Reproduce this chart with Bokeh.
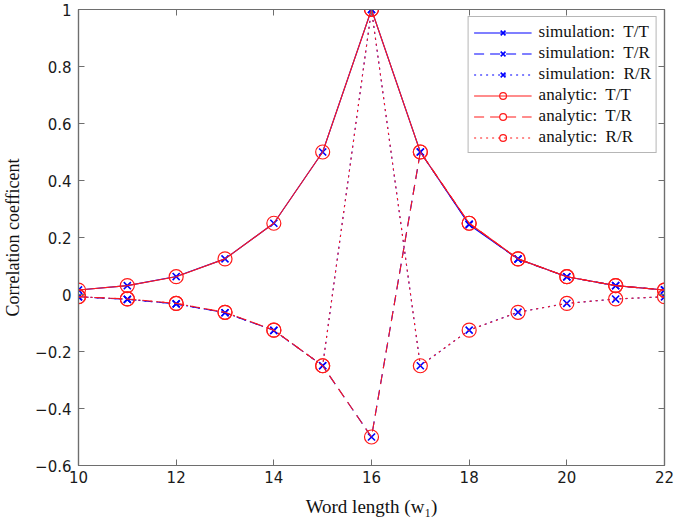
from bokeh.plotting import figure
from bokeh.models import (Range1d, LinearAxis, FixedTicker, CustomJSTickFormatter,
                          Legend, LegendItem)
from bokeh.embed import file_html
from bokeh.resources import INLINE

# ---- data ----
word_length = [10, 11, 12, 13, 14, 15, 16, 17, 18, 19, 20, 21, 22]

sim_tt = [0.016, 0.031, 0.063, 0.125, 0.25, 0.5, 1.0, 0.5, 0.245, 0.125, 0.062, 0.031, 0.016]
sim_tr = [-0.008, -0.017, -0.033, -0.064, -0.126, -0.25, -0.5, 0.5, 0.247, 0.124, 0.062, 0.031, 0.016]
sim_rr = [-0.008, -0.017, -0.033, -0.064, -0.126, -0.25, 1.0, -0.25, -0.125, -0.062, -0.031, -0.016, -0.008]

ana_tt = [0.0156, 0.03125, 0.0625, 0.125, 0.25, 0.5, 1.0, 0.5, 0.25, 0.125, 0.0625, 0.03125, 0.0156]
ana_tr = [-0.0078, -0.0156, -0.03125, -0.0625, -0.125, -0.25, -0.5, 0.5, 0.25, 0.125, 0.0625, 0.03125, 0.0156]
ana_rr = [-0.0078, -0.0156, -0.03125, -0.0625, -0.125, -0.25, 1.0, -0.25, -0.125, -0.0625, -0.03125, -0.0156, -0.0078]

x_ticks = [10, 12, 14, 16, 18, 20, 22]
y_ticks = [-0.6, -0.4, -0.2, 0, 0.2, 0.4, 0.6, 0.8, 1]

legend_labels = ["simulation:  T/T", "simulation:  T/R", "simulation:  R/R",
                 "analytic:  T/T", "analytic:  T/R", "analytic:  R/R"]

SERIF = "Liberation Serif"
SANS = "DejaVu Sans"
FRAME = "#6e6e6e"

p = figure(width=677, height=519, output_backend="svg", toolbar_location=None,
           x_range=Range1d(10, 22), y_range=Range1d(-0.6, 1.0),
           min_border_left=74, min_border_right=13, min_border_top=9, min_border_bottom=50)
p.background_fill_color = "white"
p.border_fill_color = "white"
p.outline_line_color = FRAME
p.outline_line_width = 1.2
p.grid.visible = False

fmt = CustomJSTickFormatter(code="""
if (Math.abs(tick) < 1e-9) return '0';
if (Math.abs(tick - 1) < 1e-9) return '1';
return tick.toFixed(1).replace('-', '\\u2212');
""")

def style_axis(ax, labels=True):
    ax.axis_line_color = FRAME
    ax.axis_line_width = 1.2
    ax.major_tick_line_color = FRAME
    ax.major_tick_in = 6
    ax.major_tick_out = 0
    ax.minor_tick_line_color = None
    ax.major_label_text_font = SANS
    ax.major_label_text_font_size = "15px"
    ax.major_label_text_color = "#1a1a1a"
    ax.axis_label_text_font = SERIF
    ax.axis_label_text_font_style = "normal"
    ax.axis_label_text_color = "#111111"
    if not labels:
        ax.major_label_text_font_size = "0px"
        ax.major_label_text_alpha = 0
        ax.major_label_standoff = 0
        ax.axis_label_standoff = 0

p.xaxis.ticker = FixedTicker(ticks=x_ticks)
p.yaxis.ticker = FixedTicker(ticks=y_ticks)
p.yaxis.formatter = fmt
p.xaxis.axis_label = "Word length (w\u2081)"
p.yaxis.axis_label = "Correlation coefficent"
style_axis(p.xaxis[0])
style_axis(p.yaxis[0])
p.xaxis.axis_label_text_font_size = "19px"
p.yaxis.axis_label_text_font_size = "18px"
p.xaxis.major_label_standoff = 5
p.yaxis.major_label_standoff = 7
p.xaxis.axis_label_standoff = 10
p.yaxis.axis_label_standoff = 9

ax_r = LinearAxis(ticker=FixedTicker(ticks=y_ticks))
style_axis(ax_r, labels=False)
p.add_layout(ax_r, "right")
ax_t = LinearAxis(ticker=FixedTicker(ticks=x_ticks))
style_axis(ax_t, labels=False)
p.add_layout(ax_t, "above")

BLUE = "#0000ff"
RED = "#ff1a1a"
dashes = ["solid", "10 6", "2 4"]

items = []
for ys, dash, lab in zip([sim_tt, sim_tr, sim_rr], dashes, legend_labels[:3]):
    l = p.line(word_length, ys, line_color=BLUE, line_width=1.1, line_dash=dash)
    s = p.scatter(word_length, ys, marker="x", size=10, line_color=BLUE, line_width=1.6)
    items.append(LegendItem(label=lab, renderers=[l, s]))
for ys, dash, lab in zip([ana_tt, ana_tr, ana_rr], dashes, legend_labels[3:]):
    l = p.line(word_length, ys, line_color=RED, line_width=1.1, line_dash=dash)
    s = p.scatter(word_length, ys, marker="circle", size=14, fill_color=None,
                  line_color=RED, line_width=1.2)
    items.append(LegendItem(label=lab, renderers=[l, s]))

legend = Legend(items=items, location="top_right")
legend.label_text_font = SERIF
legend.label_text_font_size = "17px"
legend.label_text_color = "#111111"
legend.glyph_width = 58
legend.glyph_height = 17
legend.label_height = 17
legend.spacing = 1
legend.padding = 5
legend.margin = 7
legend.label_standoff = 7
legend.border_line_color = FRAME
legend.border_line_width = 1.2
legend.background_fill_color = "white"
legend.background_fill_alpha = 1
p.add_layout(legend)

open("out.html", "w").write(file_html(p, INLINE))
